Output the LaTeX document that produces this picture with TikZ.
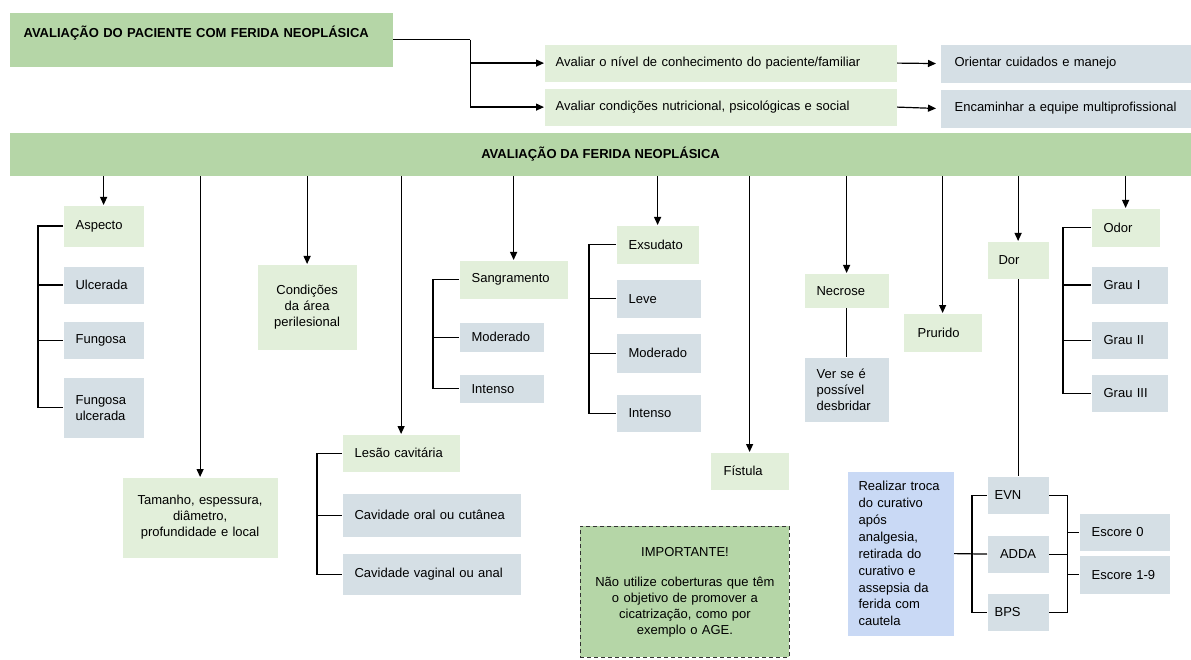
\documentclass[tikz,border=0pt]{standalone}
\usepackage{fontspec}
\setmainfont{Liberation Sans}
\usepackage{xcolor}
\usepackage{tikz}
\usetikzlibrary{calc}
\usetikzlibrary{arrows.meta}

\definecolor{verdeforte}{HTML}{B5D6A7}
\definecolor{verdeclaro}{HTML}{E2EFDA}
\definecolor{cinzaazul}{HTML}{D5DFE5}
\definecolor{azulclaro}{HTML}{C9D9F5}

\tikzset{
  caixa/.style={rectangle, anchor=north west, inner xsep=12pt, inner ysep=0pt, align=left},
  vclaro/.style={caixa, fill=verdeclaro},
  cinza/.style={caixa, fill=cinzaazul},
  negrito/.style={font=\fontsize{13}{16}\selectfont\bfseries},
  seta/.style={-{Triangle[length=8pt,width=7pt]}},
}

\begin{document}
\begin{tikzpicture}[x=1pt, y=-1pt, line width=1.2pt, font=\fontsize{13}{16}\selectfont]
        %MOLDURA
        \useasboundingbox (0,0) rectangle (1191,660);
        %AVALIACAO DO PACIENTE
        \node[caixa, fill=verdeforte, negrito, text width=355pt, inner xsep=14pt, text height=24.7pt, text depth=29.3pt] (pac) at (9,12) {AVALIAÇÃO DO PACIENTE COM FERIDA NEOPLÁSICA};
        \node[vclaro, text width=330pt, inner xsep=11pt, minimum height=37pt] (av1) at (544,44) {Avaliar o nível de conhecimento do paciente/familiar};
        \node[vclaro, text width=330pt, inner xsep=11pt, minimum height=37pt] (av2) at (544,88) {Avaliar condições nutricional, psicológicas e social};
        \node[cinza, text width=223pt, inner xsep=14pt, minimum height=38pt] (ori) at (940,44) {Orientar cuidados e manejo};
        \node[cinza, text width=223pt, inner xsep=14pt, minimum height=38pt] (enc) at (940,89) {Encaminhar a equipe multiprofissional};
        \draw (pac.east) -- ++(77,0) coordinate (j1);
        \draw[seta] (j1) |- (av2.west);
        \draw[seta] (j1 |- av1.west) -- (av1.west);
        \draw[seta, shorten >=4pt] (av1.east) -- (ori.west);
        \draw[seta, shorten >=4pt] (av2.east) -- (enc.west);
        %BARRA
        \node[caixa, fill=verdeforte, negrito, minimum width=1182pt, minimum height=43pt] (bar) at (9,132) {AVALIAÇÃO DA FERIDA NEOPLÁSICA};
        %ASPECTO
        \node[vclaro, text width=56pt, minimum height=41pt] (asp) at (63,205) {Aspecto};
        \node[cinza, text width=56pt, minimum height=37pt] (ulc) at (63,266) {Ulcerada};
        \node[cinza, text width=56pt, minimum height=37pt] (fun) at (63,321) {Fungosa};
        \node[cinza, text width=56pt, minimum height=60pt] (fuu) at (63,377) {Fungosa\\ulcerada};
        \draw (asp.west) -- ++(-25,0) coordinate (k1) |- (fuu.west);
        \foreach \n in {ulc,fun} \draw (k1 |- \n.west) -- (\n.west);
        %TAMANHO E PERILESIONAL
        \node[vclaro, align=center, text width=135pt, inner xsep=10pt, minimum height=80pt] (tam) at (122,477) {Tamanho, espessura,\\diâmetro,\\profundidade e local};
        \node[vclaro, align=center, text width=79pt, inner xsep=10pt, minimum height=85pt] (cond) at (257,264) {Condições\\da área\\perilesional};
        %LESAO CAVITARIA
        \node[vclaro, text width=93pt, minimum height=37pt] (les) at (342,434) {Lesão cavitária};
        \node[cinza, text width=154pt, minimum height=43pt] (cor) at (342,493) {Cavidade oral ou cutânea};
        \node[cinza, text width=154pt, minimum height=41pt] (cva) at (342,553) {Cavidade vaginal ou anal};
        \draw (les.west) -- ++(-25,0) coordinate (k2) |- (cva.west);
        \draw (k2 |- cor.west) -- (cor.west);
        %SANGRAMENTO
        \node[vclaro, text width=84pt, minimum height=38pt] (san) at (459,260) {Sangramento};
        \node[cinza, text width=60pt, minimum height=29pt] (smo) at (459,322) {Moderado};
        \node[cinza, text width=60pt, minimum height=28pt] (sin) at (459,374) {Intenso};
        \draw (san.west) -- ++(-26,0) coordinate (k3) |- (sin.west);
        \draw (k3 |- smo.west) -- (smo.west);
        %EXSUDATO
        \node[vclaro, text width=58pt, minimum height=38pt] (exs) at (616,225) {Exsudato};
        \node[cinza, text width=60pt, minimum height=38pt] (lev) at (616,279) {Leve};
        \node[cinza, text width=60pt, minimum height=39pt] (emo) at (616,333) {Moderado};
        \node[cinza, text width=60pt, minimum height=37pt] (ein) at (616,394) {Intenso};
        \draw (exs.west) -- ++(-27,0) coordinate (k4) |- (ein.west);
        \foreach \n in {lev,emo} \draw (k4 |- \n.west) -- (\n.west);
        %FISTULA, NECROSE, PRURIDO
        \node[vclaro, text width=52pt, inner xsep=13pt, minimum height=37pt] (fis) at (710,452) {Fístula};
        \node[vclaro, text width=60pt, minimum height=34pt] (nec) at (804,273) {Necrose};
        \node[cinza, text width=60pt, minimum height=64pt] (ver) at (804,357) {Ver se é\\possível\\desbridar};
        \draw (nec.south) -- (ver.north);
        \node[vclaro, text width=50pt, inner xsep=14pt, minimum height=38pt] (pru) at (903,313) {Prurido};
        %DOR
        \node[vclaro, text width=39pt, inner xsep=11pt, minimum height=37pt] (dor) at (987,241) {Dor};
        \node[cinza, text width=47pt, inner xsep=7pt, minimum height=37pt] (evn) at (987,476) {EVN};
        \node[cinza, align=center, text width=47pt, inner xsep=7pt, minimum height=37pt] (adda) at (987,535) {ADDA};
        \node[cinza, text width=47pt, inner xsep=7pt, minimum height=37pt] (bps) at (987,593) {BPS};
        \node[caixa, fill=azulclaro, text width=84pt, inner xsep=11pt, minimum height=164pt, font=\fontsize{13}{16.9}\selectfont] (rea) at (847,471) {Realizar troca\\do curativo\\após\\analgesia,\\retirada do\\curativo e\\assepsia da\\ferida com\\cautela};
        \node[cinza, text width=66pt, minimum height=37pt] (es0) at (1079,513) {Escore 0};
        \node[cinza, text width=66pt, minimum height=38pt] (es1) at (1079,555) {Escore 1-9};
        \draw (dor.south) -- (dor.south |- evn.north);
        \draw (rea.east) -- (adda.west);
        \draw (evn.west) -- ++(-15,0) |- (bps.west);
        \draw (evn.east) -- ++(18,0) coordinate (k5) |- (bps.east);
        \draw (adda.east) -- (k5 |- adda.east);
        \foreach \n in {es0,es1} \draw (k5 |- \n.west) -- (\n.west);
        %ODOR
        \node[vclaro, text width=44pt, minimum height=38pt] (odo) at (1091,208) {Odor};
        \node[cinza, text width=52pt, minimum height=37pt] (gr1) at (1091,266) {Grau I};
        \node[cinza, text width=52pt, minimum height=37pt] (gr2) at (1091,321) {Grau II};
        \node[cinza, text width=52pt, minimum height=37pt] (gr3) at (1091,374) {Grau III};
        \draw (odo.west) -- ++(-28,0) coordinate (k6) |- (gr3.west);
        \foreach \n in {gr1,gr2} \draw (k6 |- \n.west) -- (\n.west);
        %SETAS DA BARRA
        \foreach \n in {asp,tam,cond,les,san,exs,fis,nec,pru,dor,odo}
          \draw[seta] (\n.north |- bar.south) -- (\n.north);
        %IMPORTANTE
        \node[caixa, fill=verdeforte, draw=black!80, line width=0.9pt, dash pattern=on 4pt off 3pt, align=center, text width=190pt, inner xsep=9.5pt, minimum height=131pt] (imp) at (580,526) {IMPORTANTE!\\[14pt]Não utilize coberturas que têm\\o objetivo de promover a\\cicatrização, como por\\exemplo o AGE.};
\end{tikzpicture}
\end{document}
